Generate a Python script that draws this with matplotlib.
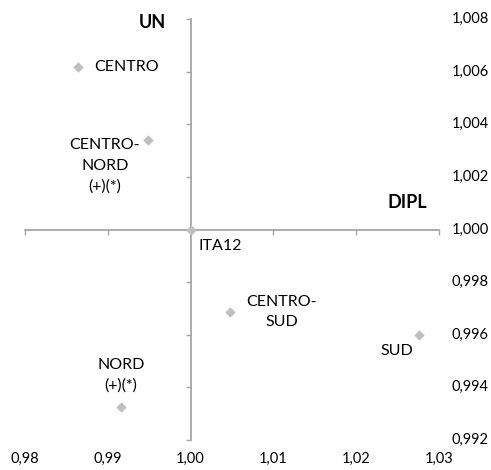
import matplotlib
matplotlib.use("Agg")
import matplotlib.pyplot as plt
from matplotlib.ticker import FuncFormatter

plt.rcParams['font.family'] = ['Lato', 'DejaVu Sans']

names = ["CENTRO", "CENTRO-\nNORD\n(+)(*)", "ITA12", "CENTRO-\nSUD", "SUD", "NORD\n(+)(*)"]
dipl = [0.9864, 0.9949, 1.0000, 1.0048, 1.0276, 0.9916]
un = [1.00618, 1.0034, 1.0000, 0.99687, 0.99599, 0.99326]
# label placement: (dx px, dy px, ha, va)
placements = [
    (16, 0, "left", "center"),
    (-8, 2, "right", "top"),
    (8, -10, "left", "top"),
    (16, 0, "left", "center"),
    (-6, -9, "right", "top"),
    (0, 14, "center", "bottom"),
]

x_ticks = [0.98, 0.99, 1.00, 1.01, 1.02, 1.03]
y_ticks = [0.992, 0.994, 0.996, 0.998, 1.000, 1.002, 1.004, 1.006, 1.008]

fig = plt.figure(figsize=(4.91, 4.70), dpi=100)
ax = fig.add_axes([25/491, 30/470, (439-25)/491, (440-19)/470])
ax.set_xlim(0.98, 1.03)
ax.set_ylim(0.992, 1.008)

axis_col = "#A6A6A6"
ax.spines['left'].set_position(('data', 1.0))
ax.spines['bottom'].set_position(('data', 1.0))
ax.spines['right'].set_visible(False)
ax.spines['top'].set_visible(False)
for s in ('left', 'bottom'):
    ax.spines[s].set_color(axis_col)
    ax.spines[s].set_linewidth(1.3)

ax.set_xticks(x_ticks)
ax.set_yticks(y_ticks)
ax.tick_params(axis='both', direction='out', length=3.6, width=1.0, color=axis_col)
ax.tick_params(axis='x', labelbottom=False)
ax.tick_params(axis='y', labelleft=False)

comma = lambda fmt: FuncFormatter(lambda v, p: (fmt % v).replace('.', ','))

# tick labels placed at the outer edges (like Excel "low"/"high" label positions)
for v in x_ticks:
    ax.annotate(comma("%.2f")(v), xy=(v, 0.992), xycoords='data',
                xytext=(0, -12), textcoords='offset pixels',
                ha='center', va='top', fontsize=10.5, color='#000000')
for v in y_ticks:
    ax.annotate(comma("%.3f")(v), xy=(1.03, v), xycoords='data',
                xytext=(13, 0), textcoords='offset pixels',
                ha='left', va='center', fontsize=10.5, color='#000000')

ax.scatter(dipl, un, marker='D', s=28, color='#BFBFBF', zorder=5, clip_on=False, linewidths=0)

for n, x, y, (dx, dy, ha, va) in zip(names, dipl, un, placements):
    ax.annotate(n, xy=(x, y), xytext=(dx, dy), textcoords='offset pixels',
                ha=ha, va=va, multialignment='center', fontsize=11.5,
                linespacing=1.6, color='#000000')

fig.text(166/491, 1 - 22/470, "UN", ha='right', va='center', fontsize=13, fontweight='bold')
fig.text(407/491, 1 - 202/470, "DIPL", ha='center', va='center', fontsize=13, fontweight='bold')

fig.savefig("out.png", dpi=100)
